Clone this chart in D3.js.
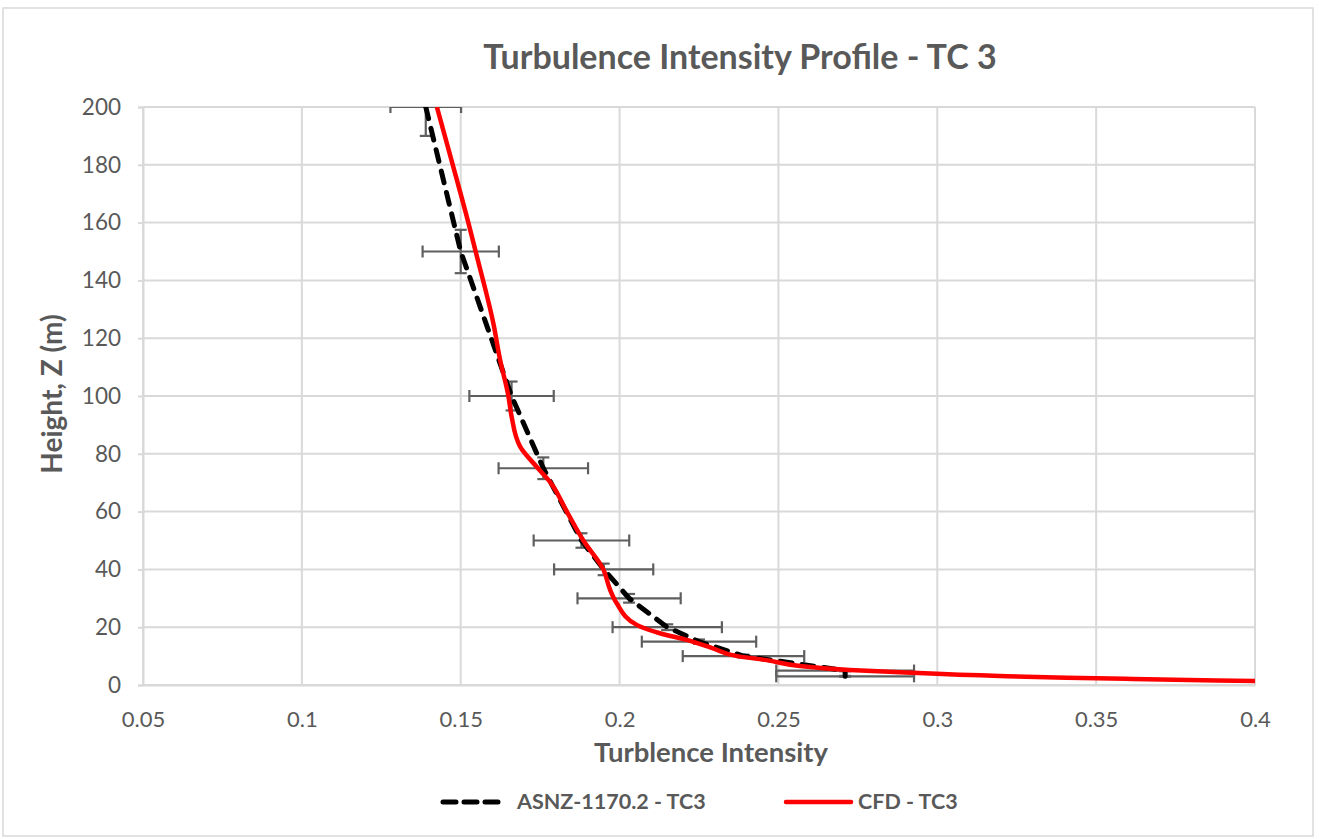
<!DOCTYPE html>
<html>
<head>
<meta charset="utf-8">
<script src="https://cdn.jsdelivr.net/npm/d3@7"></script>
<style>
  body { margin: 0; background: #fff; }
  svg text { font-family: Lato, "Open Sans", sans-serif; fill: #595959; }
</style>
</head>
<body>
<svg id="chart" width="1319" height="839"></svg>
<script>
// ---- data ----
const asnzHeights = [200, 150, 100, 75, 50, 40, 30, 20, 15, 10, 5, 3];
const asnzTI      = [0.139, 0.150, 0.166, 0.176, 0.188, 0.195, 0.203, 0.215, 0.225, 0.239, 0.271, 0.271];
const tiErrorFraction = 0.08;     // horizontal error bars (±8 %)
const heightErrorFraction = 0.05; // vertical error bars (±5 %)

const cfdHeights = [200, 180, 160, 150, 125, 112.5, 100, 93, 82.5, 75.5, 70.3, 60, 50, 40, 33, 28.3, 20.8, 17.9, 15.6, 12.7, 10, 8.6, 6.6, 5.2, 4.4, 3.1, 2.5, 2.08, 1.6, 1.4];
const cfdTI      = [0.1425, 0.1475, 0.1524, 0.1547, 0.1603, 0.1624, 0.1650, 0.1660, 0.1687, 0.1739, 0.1781, 0.1834, 0.1886, 0.1949, 0.1970, 0.1991, 0.2054, 0.2127, 0.2211, 0.2294, 0.2370, 0.2463, 0.2568, 0.2725, 0.2883, 0.3197, 0.3407, 0.3616, 0.3880, 0.4000];

const xTicks = [0.05, 0.1, 0.15, 0.2, 0.25, 0.3, 0.35, 0.4];
const yTicks = [0, 20, 40, 60, 80, 100, 120, 140, 160, 180, 200];

const titleText = "Turbulence Intensity Profile - TC 3";
const xTitle = "Turblence Intensity";
const yTitle = "Height, Z (m)";
const seriesNames = ["ASNZ-1170.2 - TC3", "CFD - TC3"];

// ---- layout ----
const svg = d3.select("#chart");
const pL = 143, pR = 1255, pT = 107, pB = 685;
const x = d3.scaleLinear().domain([0.05, 0.4]).range([pL, pR]);
const y = d3.scaleLinear().domain([0, 200]).range([pB, pT]);

const textCol = "#595959", gridCol = "#d9d9d9", errCol = "#5f5f5f";

// chart border
svg.append("rect").attr("x", 3).attr("y", 8).attr("width", 1310).attr("height", 828)
  .attr("fill", "#fff").attr("stroke", "#d9d9d9").attr("stroke-width", 1.5);

// gridlines
svg.append("g").selectAll("line").data(yTicks).join("line")
  .attr("x1", pL).attr("x2", pR).attr("y1", d => y(d)).attr("y2", d => y(d))
  .attr("stroke", gridCol).attr("stroke-width", 2);
svg.append("g").selectAll("line").data(xTicks).join("line")
  .attr("x1", d => x(d)).attr("x2", d => x(d)).attr("y1", pT).attr("y2", pB)
  .attr("stroke", gridCol).attr("stroke-width", 2);

// axes
const yAxis = svg.append("g").attr("transform", `translate(${pL},0)`)
  .call(d3.axisLeft(y).tickValues(yTicks).tickSize(5).tickPadding(17).tickFormat(d3.format("d")));
yAxis.select(".domain").attr("stroke", gridCol).attr("stroke-width", 2);
yAxis.selectAll(".tick line").attr("stroke", gridCol).attr("stroke-width", 2);
yAxis.selectAll("text").attr("font-size", 22.5).attr("fill", textCol).style("font-family", "Lato, sans-serif");

const xAxis = svg.append("g").attr("transform", `translate(0,${pB})`)
  .call(d3.axisBottom(x).tickValues(xTicks).tickSize(0).tickPadding(26).tickFormat(d => String(+d.toFixed(2))));
xAxis.select(".domain").attr("stroke", gridCol).attr("stroke-width", 2);
xAxis.selectAll("text").attr("font-size", 22).attr("fill", textCol).style("font-family", "Lato, sans-serif");

// clip
svg.append("clipPath").attr("id", "plotclip").append("rect")
  .attr("x", pL).attr("y", pT).attr("width", pR - pL).attr("height", pB - pT);
const plot = svg.append("g").attr("clip-path", "url(#plotclip)");

// error bars
const asnz = asnzHeights.map((h, i) => ({ z: h, ti: asnzTI[i] }));
const eb = plot.append("g").attr("stroke", errCol).attr("stroke-width", 2.2).attr("fill", "none");
const capH = 6, capW = 6;
asnz.forEach(d => {
  const x0 = x(d.ti * (1 - tiErrorFraction)), x1 = x(d.ti * (1 + tiErrorFraction));
  const yc = y(d.z);
  eb.append("line").attr("x1", x0).attr("x2", x1).attr("y1", yc).attr("y2", yc);
  eb.append("line").attr("x1", x0).attr("x2", x0).attr("y1", yc - capH).attr("y2", yc + capH);
  eb.append("line").attr("x1", x1).attr("x2", x1).attr("y1", yc - capH).attr("y2", yc + capH);
  const y0 = y(d.z * (1 - heightErrorFraction)), y1 = y(d.z * (1 + heightErrorFraction));
  const xc = x(d.ti);
  eb.append("line").attr("x1", xc).attr("x2", xc).attr("y1", y0).attr("y2", y1);
  eb.append("line").attr("x1", xc - capW).attr("x2", xc + capW).attr("y1", y0).attr("y2", y0);
  eb.append("line").attr("x1", xc - capW).attr("x2", xc + capW).attr("y1", y1).attr("y2", y1);
});

// ASNZ dashed line
const line = d3.line().x(d => x(d.ti)).y(d => y(d.z));
plot.append("path").datum(asnz).attr("d", line)
  .attr("fill", "none").attr("stroke", "#000").attr("stroke-width", 5)
  .attr("stroke-dasharray", "12,10").attr("stroke-linecap", "round");

// CFD red line
const cfd = cfdHeights.map((h, i) => ({ z: h, ti: cfdTI[i] }));
plot.append("path").datum(cfd).attr("d", line.curve(d3.curveMonotoneY))
  .attr("fill", "none").attr("stroke", "#ff0000").attr("stroke-width", 4.5)
  .attr("stroke-linejoin", "round");

// titles
svg.append("text").attr("x", 740).attr("y", 69).attr("text-anchor", "middle")
  .attr("font-size", 34).attr("font-weight", "bold").text(titleText);
svg.append("text").attr("x", 711).attr("y", 762).attr("text-anchor", "middle")
  .attr("font-size", 27.5).attr("font-weight", "bold").text(xTitle);
svg.append("text").attr("transform", "translate(62,394) rotate(-90)").attr("text-anchor", "middle")
  .attr("font-size", 28).attr("font-weight", "bold").text(yTitle);

// legend
const lg = svg.append("g");
lg.append("line").attr("x1", 443).attr("x2", 502).attr("y1", 802).attr("y2", 802)
  .attr("stroke", "#000").attr("stroke-width", 5).attr("stroke-dasharray", "13,8").attr("stroke-linecap", "round");
lg.append("text").attr("x", 517).attr("y", 809).attr("font-size", 21.5).attr("font-weight", "bold").text(seriesNames[0]);
lg.append("line").attr("x1", 786).attr("x2", 851).attr("y1", 802).attr("y2", 802)
  .attr("stroke", "#ff0000").attr("stroke-width", 4.5).attr("stroke-linecap", "round");
lg.append("text").attr("x", 858).attr("y", 809).attr("font-size", 21.5).attr("font-weight", "bold").text(seriesNames[1]);
</script>
</body>
</html>
